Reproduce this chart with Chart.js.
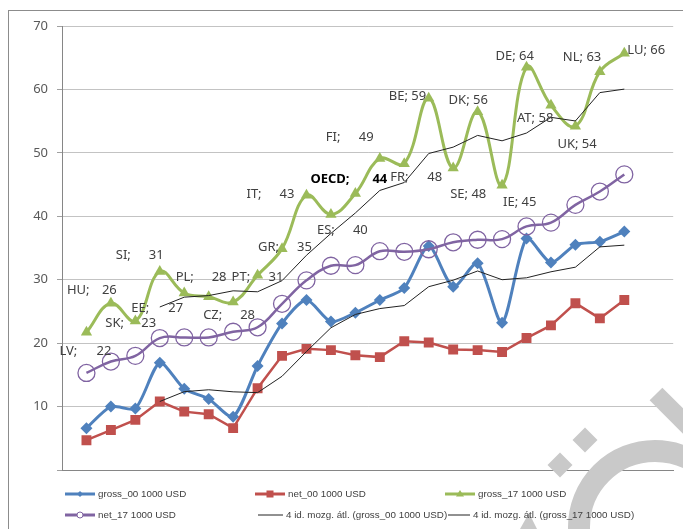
<!DOCTYPE html>
<html>
<head>
<meta charset="utf-8">
<script src="https://cdn.jsdelivr.net/npm/chart.js@4.4.1/dist/chart.umd.min.js"></script>
<style>
  html, body { margin: 0; padding: 0; background: #fff; }
  #wrap { width: 683px; height: 529px; }
</style>
</head>
<body>
<div id="wrap"><canvas id="chart" width="683" height="529"></canvas></div>
<script>
const countries = ['LV', 'HU', 'SK', 'SI', 'EE', 'PL', 'CZ', 'PT', 'GR', 'IT', 'ES', 'OECD',
    'FI', 'FR', 'BE', 'SE', 'DK', 'IE', 'DE', 'AT', 'UK', 'NL', 'LU'];
const gross00 = [6.6, 10.0, 9.7, 16.9, 12.8, 11.2, 8.4, 16.4, 23.1, 26.8, 23.4, 24.8,
    26.8, 28.7, 35.3, 28.9, 32.6, 23.2, 36.5, 32.7, 35.5, 36.0, 37.6];
const net00 = [4.7, 6.3, 7.9, 10.8, 9.2, 8.8, 6.6, 12.9, 18.0, 19.1, 18.9, 18.1,
    17.8, 20.3, 20.1, 19.0, 18.9, 18.6, 20.8, 22.8, 26.3, 23.9, 26.8];
const gross17 = [21.7, 26.3, 23.5, 31.3, 27.9, 27.3, 26.5, 30.7, 34.9, 43.3, 40.3, 43.6,
    49.1, 48.3, 58.6, 47.6, 56.5, 44.9, 63.5, 57.5, 54.2, 62.8, 65.7];
const net17 = [15.3, 17.1, 18.0, 20.8, 20.9, 20.9, 21.8, 22.5, 26.2, 29.9, 32.2, 32.3,
    34.5, 34.4, 34.8, 35.9, 36.3, 36.4, 38.4, 39.0, 41.8, 43.9, 46.6];
// value part of the data labels on gross_17, as printed in the chart
const labelValues = ['22', '26', '23', '31', '27', '28', '28', '31', '35', '43', '40', '44',
    '49', '48', '59', '48', '56', '45', '64', '58', '54', '63', '66'];
const seriesNames = ['gross_00 1000 USD', 'net_00 1000 USD', 'gross_17 1000 USD', 'net_17 1000 USD',
    '4 id. mozg. átl. (gross_00 1000 USD)', '4 id. mozg. átl. (gross_17 1000 USD)'];
const yMin = 0, yMax = 70, yStep = 10;
const maPeriod = 4;

// label placement: [name dx, value dx (null = same string), dy] from the point
const labelLayout = [
    [-27, 10, 18.5], [-44, -9, -12.6], [-30, 6, 2], [-44, -11, -16], [-53, -16, 15],
    [-33, 3, -20], [-30, 7, 13], [-26, 11, 2], [-24, 15, -1], [-60, -27, -1],
    [-14, 22, 16], [-45, 17, -14], [-54, -21, -21], [-14, 23, 14], [-40, null, -2],
    [-3, null, 26.5], [-29, null, -11], [1, null, 17], [-31, null, -11], [-34, null, 13],
    [-18, null, 18], [-37, null, -14], [3, null, -3]
];

const BLUE = '#4F81BD', RED = '#C0504D', GREEN = '#9BBB59', PURPLE = '#8064A2';
const FONT = "'Noto Sans', sans-serif";

function movingAverage(values, n) {
    return values.map((v, i) => i < n - 1 ? null
        : values.slice(i - n + 1, i + 1).reduce((a, b) => a + b, 0) / n);
}
const toPoints = arr => arr.map((v, i) => ({ x: i, y: v }));

const frame = {
    id: 'frame',
    beforeDraw(chart) {
        const ctx = chart.ctx;
        ctx.save();
        ctx.fillStyle = '#fff';
        ctx.fillRect(0, 0, chart.width, chart.height);
        ctx.strokeStyle = '#8c8c8c';
        ctx.lineWidth = 1;
        ctx.strokeRect(8.5, 10.5, 720, 560);
        ctx.restore();
    }
};

const pointLabels = {
    id: 'pointLabels',
    afterDatasetsDraw(chart) {
        const ctx = chart.ctx;
        const meta = chart.getDatasetMeta(2);
        ctx.save();
        ctx.textBaseline = 'middle';
        ctx.textAlign = 'left';
        meta.data.forEach((pt, i) => {
            const [dxName, dxVal, dy] = labelLayout[i];
            const bold = countries[i] === 'OECD';
            ctx.font = (bold ? 'bold ' : '') + '13px ' + FONT;
            ctx.fillStyle = bold ? '#000' : '#404040';
            if (dxVal === null) {
                ctx.fillText(countries[i] + '; ' + labelValues[i], pt.x + dxName, pt.y + dy);
            } else {
                ctx.fillText(countries[i] + ';', pt.x + dxName, pt.y + dy);
                ctx.fillText(labelValues[i], pt.x + dxVal, pt.y + dy);
            }
        });
        ctx.restore();
    }
};

// grey logo in the lower right corner, under the legend text
const watermark = {
    id: 'watermark',
    afterDatasetsDraw(chart) {
        const ctx = chart.ctx;
        ctx.save();
        ctx.fillStyle = '#c9c9c9';
        ctx.strokeStyle = '#c9c9c9';
        ctx.lineWidth = 22;
        ctx.beginPath();
        ctx.arc(655, 527, 76, 0, Math.PI * 2);
        ctx.stroke();
        ctx.lineWidth = 18;
        ctx.lineCap = 'butt';
        ctx.beginPath();
        ctx.moveTo(656, 394);
        ctx.lineTo(720, 458);
        ctx.stroke();
        [[585, 440], [560, 465]].forEach(([cx, cy]) => {
            ctx.beginPath();
            ctx.moveTo(cx, cy - 12.5); ctx.lineTo(cx + 12.5, cy);
            ctx.lineTo(cx, cy + 12.5); ctx.lineTo(cx - 12.5, cy);
            ctx.closePath(); ctx.fill();
        });
        ctx.beginPath();
        ctx.moveTo(529, 513); ctx.lineTo(537, 529); ctx.lineTo(520, 529);
        ctx.closePath(); ctx.fill();
        ctx.restore();
    }
};

function legendMarker(ctx, kind, color, x, y) {
    ctx.fillStyle = color;
    ctx.strokeStyle = color;
    ctx.beginPath();
    if (kind === 'diamond') {
        ctx.moveTo(x, y - 3); ctx.lineTo(x + 3, y); ctx.lineTo(x, y + 3); ctx.lineTo(x - 3, y);
        ctx.closePath(); ctx.fill();
    } else if (kind === 'square') {
        ctx.fillRect(x - 3.5, y - 3.5, 7, 7);
    } else if (kind === 'triangle') {
        ctx.moveTo(x, y - 4); ctx.lineTo(x + 4, y + 2.5); ctx.lineTo(x - 4, y + 2.5);
        ctx.closePath(); ctx.fill();
    } else if (kind === 'circle') {
        ctx.fillStyle = '#fff';
        ctx.lineWidth = 1;
        ctx.arc(x, y, 3, 0, Math.PI * 2); ctx.fill(); ctx.stroke();
    }
}

const legendBox = {
    id: 'legendBox',
    afterDraw(chart) {
        const ctx = chart.ctx;
        const items = [
            { x: 65, y: 494, len: 30, w: 3, color: BLUE, marker: 'diamond' },
            { x: 255, y: 494, len: 30, w: 3, color: RED, marker: 'square' },
            { x: 445, y: 494, len: 30, w: 3, color: GREEN, marker: 'triangle' },
            { x: 65, y: 515, len: 30, w: 3, color: PURPLE, marker: 'circle' },
            { x: 258, y: 515, len: 25, w: 1, color: '#222', marker: null },
            { x: 448, y: 515, len: 22, w: 1, color: '#222', marker: null }
        ];
        ctx.save();
        ctx.font = '9.8px "Liberation Sans", Arial, sans-serif';
        ctx.textBaseline = 'middle';
        items.forEach((it, i) => {
            ctx.strokeStyle = it.color;
            ctx.lineWidth = it.w;
            ctx.beginPath();
            ctx.moveTo(it.x, it.y);
            ctx.lineTo(it.x + it.len, it.y);
            ctx.stroke();
            if (it.marker) legendMarker(ctx, it.marker, it.color, it.x + it.len / 2, it.y);
            ctx.fillStyle = '#404040';
            ctx.fillText(seriesNames[i], it.x + it.len + 3, it.y);
        });
        ctx.restore();
    }
};

const ctx = document.getElementById('chart').getContext('2d');
Chart.defaults.font.family = FONT;

const chart = new Chart(ctx, {
    type: 'line',
    data: {
        datasets: [
            {
                label: seriesNames[4], data: toPoints(movingAverage(gross00, maPeriod)),
                borderColor: '#222', borderWidth: 1, pointRadius: 0, tension: 0, order: 0
            },
            {
                label: seriesNames[5], data: toPoints(movingAverage(gross17, maPeriod)),
                borderColor: '#222', borderWidth: 1, pointRadius: 0, tension: 0, order: 0
            },
            {
                label: seriesNames[2], data: toPoints(gross17),
                borderColor: GREEN, backgroundColor: GREEN, borderWidth: 3, tension: 0.4,
                pointStyle: 'triangle', pointRadius: 6.5, pointBorderWidth: 0, order: 2
            },
            {
                label: seriesNames[3], data: toPoints(net17),
                borderColor: PURPLE, backgroundColor: 'rgba(0,0,0,0)', borderWidth: 2.5, tension: 0.4,
                pointStyle: 'circle', pointRadius: 8.5, pointBorderWidth: 1.3,
                pointBorderColor: PURPLE, pointBackgroundColor: 'rgba(0,0,0,0)', order: 1
            },
            {
                label: seriesNames[1], data: toPoints(net00),
                borderColor: RED, backgroundColor: RED, borderWidth: 2.5, tension: 0,
                pointStyle: 'rect', pointRadius: 7, pointBorderWidth: 0, order: 3
            },
            {
                label: seriesNames[0], data: toPoints(gross00),
                borderColor: BLUE, backgroundColor: BLUE, borderWidth: 3, tension: 0.25,
                pointStyle: 'rectRot', pointRadius: 6, pointBorderWidth: 0, order: 4
            }
        ]
    },
    options: {
        responsive: false,
        animation: false,
        events: [],
        layout: { padding: { left: 0, top: 26, right: 9, bottom: 59 } },
        plugins: { legend: { display: false }, tooltip: { enabled: false } },
        scales: {
            x: {
                type: 'linear', min: -1, max: 24,
                afterFit: (scale) => { scale.height = 0; },
                ticks: { display: false },
                grid: { display: false },
                border: { display: true, color: '#868686', width: 1 }
            },
            y: {
                min: yMin, max: yMax,
                afterFit: (scale) => { scale.width = 62; },
                ticks: {
                    stepSize: yStep, padding: 9, color: '#595959',
                    font: { size: 13, family: FONT },
                    callback: (v) => v === 0 ? '' : v
                },
                grid: { color: '#c3c3c3', tickLength: 5, tickColor: '#a0a0a0' },
                border: { display: true, color: '#868686', width: 1 }
            }
        }
    },
    plugins: [frame, pointLabels, watermark, legendBox]
});
</script>
</body>
</html>
